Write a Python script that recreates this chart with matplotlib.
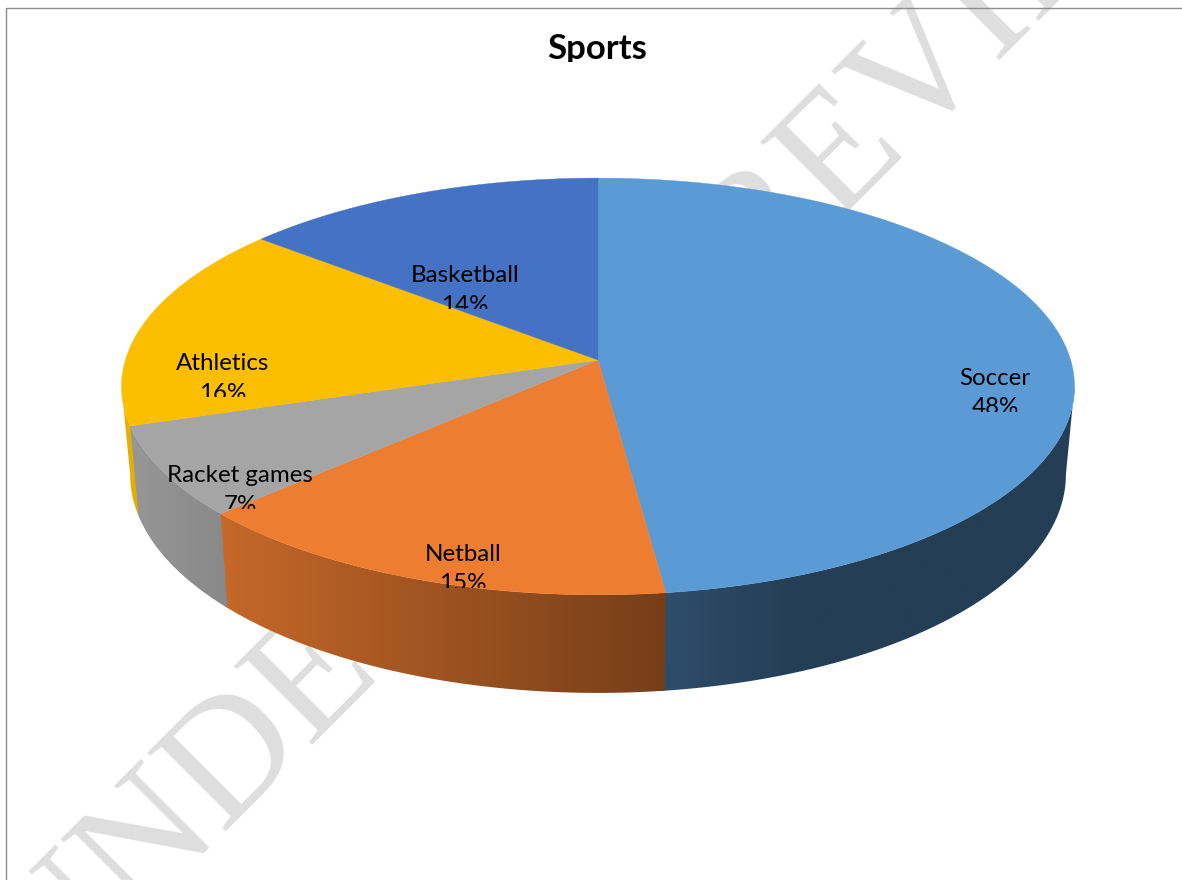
'''
Draws the "Sports" share chart as a thick tilted pie with shaded side walls.
'''

import numpy as np
import matplotlib
matplotlib.use("Agg")
import matplotlib.pyplot as plt
from matplotlib.colors import to_rgb
from matplotlib.patches import Polygon, Rectangle

categories = ["Soccer", "Netball", "Racket games", "Athletics", "Basketball"]
shares = [48, 15, 7, 16, 14]
colours = ["#5b9bd5", "#ed7d31", "#a5a5a5", "#fcbf00", "#4472c4"]
title_text = "Sports"
watermark_words = ["UNDER", "PREVIEW"]

WIDTH, HEIGHT = 1182, 880
CX, CY = 598.0, 360.0
RX, RY = 472.6, 205.0
PERSPECTIVE = 0.127
WALL_SCALE = 0.982

# where each label's first line sits, and where its box cuts the text off
label_x = [995, 463, 240, 223, 465]
label_y = [376, 552, 473, 361, 273]
LABEL_BOX = 36

# baseline start of each watermark word
watermark_x = [49, 688]
watermark_y = [1005, 367]


def project(angles):
    '''
    Map clockwise angles from twelve o'clock onto the rim of the tilted disc.
    Args:
        angles (array): Angles in radians.
    Returns:
        tuple: x and y pixel positions.
    '''
    depth = np.cos(angles)
    scale = 1 + PERSPECTIVE * depth
    return CX + RX * np.sin(angles) / scale, CY - RY * depth / scale


def wall_bottom(x, y):
    '''
    Move a rim point of the top face to the lower edge of the side wall.
    Args:
        x (array): Rim x positions.
        y (array): Rim y positions.
    Returns:
        tuple: x and y pixel positions of the lower edge.
    '''
    return CX + WALL_SCALE * (x - CX), y + 90 + (y - 425) * 8 / 168


def wall_shade(x):
    '''
    Brightness of the side wall, falling from left to right.
    Args:
        x (array): Pixel x positions.
    Returns:
        array: Factor to multiply the slice colour with.
    '''
    return np.interp(x, [122, 225, 672, 800, 1075], [0.92, 0.83, 0.49, 0.40, 0.40])


def draw_clipped_text(ax, x, y, text, bottom, **kwargs):
    '''
    Draw centred text that is cut off at a given pixel row.
    '''
    t = ax.text(x, y, text, ha="center", va="top", color="black",
                family="Lato", zorder=6, **kwargs)
    box = Rectangle((0, 0), WIDTH, bottom, transform=ax.transData)
    t.set_clip_path(box)
    t.set_clip_on(True)
    return t


fig = plt.figure(figsize=(WIDTH / 100, HEIGHT / 100), dpi=100, facecolor="white")
ax = fig.add_axes([0, 0, 1, 1])
ax.axis("off")

# watermark behind the chart
for word, x, y in zip(watermark_words, watermark_x, watermark_y):
    ax.text(x, y, word, rotation=45, rotation_mode="anchor",
            ha="left", va="baseline", family="Liberation Serif", fontsize=122,
            color="#dedede", zorder=1, clip_on=True)

# frame of the chart area
ax.plot([5.7, 5.7, WIDTH], [HEIGHT, 8, 8], color="#8c8c8c", lw=1.0, zorder=2)

edges = np.concatenate([[0], np.cumsum(shares)]) / np.sum(shares) * 2 * np.pi

# only the part of the rim between the two widest points has a visible wall
front_start = np.arccos(-PERSPECTIVE)
front_end = 2 * np.pi - front_start

for start, end, colour in zip(edges[:-1], edges[1:], colours):
    wall_start = max(start, front_start)
    wall_end = min(end + 0.01, front_end)
    if wall_start >= wall_end:
        continue
    steps = np.linspace(wall_start, wall_end, int((wall_end - wall_start) * 180) + 2)
    top_x, top_y = project(steps)
    low_x, low_y = wall_bottom(top_x, top_y)
    outline = np.c_[np.r_[top_x, low_x[::-1]], np.r_[top_y, low_y[::-1]]]
    clip = Polygon(outline, transform=ax.transData)
    left, right = outline[:, 0].min(), outline[:, 0].max()
    columns = np.linspace(left, right, max(int(right - left), 2))
    gradient = wall_shade(columns)[None, :, None] * np.array(to_rgb(colour))
    image = ax.imshow(gradient, extent=(left, right, outline[:, 1].max(), outline[:, 1].min()),
                      aspect="auto", interpolation="bilinear", zorder=3)
    image.set_clip_path(clip)

for start, end, colour in zip(edges[:-1], edges[1:], colours):
    steps = np.linspace(start, end, int((end - start) * 180) + 2)
    top_x, top_y = project(steps)
    ax.fill(np.r_[CX, top_x], np.r_[CY, top_y], color=colour, lw=0.3, zorder=4)

ax.set_xlim(0, WIDTH)
ax.set_ylim(HEIGHT, 0)

draw_clipped_text(ax, 597, 33, title_text, 62, fontsize=25, fontweight="bold")

for name, share, x, y in zip(categories, shares, label_x, label_y):
    draw_clipped_text(ax, x, y - 8, f"{name}\n{share}%", y + LABEL_BOX,
                      fontsize=17.4, linespacing=1.5)

fig.savefig("out.png", dpi=100)
